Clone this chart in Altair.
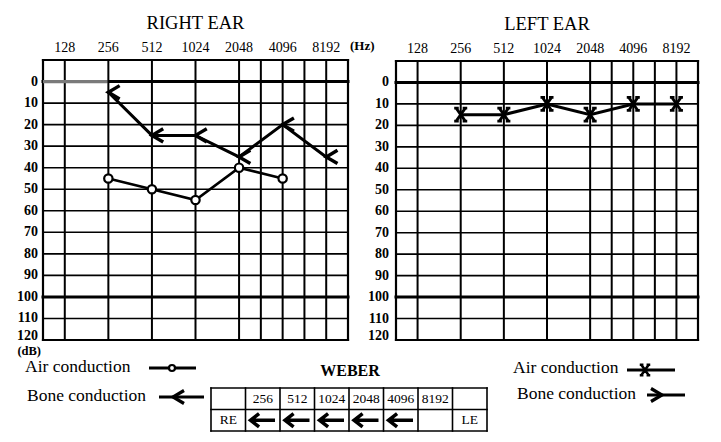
import altair as alt
import pandas as pd
import numpy as np

# ---------------- data ----------------
freq_labels = ["128", "256", "512", "1024", "2048", "4096", "8192"]
freqs = [128, 256, 512, 1024, 2048, 4096, 8192]
half_octave_lines = [2896, 5793]          # unlabeled intermediate lines
db_ticks = [0, 10, 20, 30, 40, 50, 60, 70, 80, 90, 100, 110, 120]

right_air_freq = [256, 512, 1024, 2048, 4096]
right_air_db = [45, 50, 55, 40, 45]
right_bone_freq = [256, 512, 1024, 2048, 4096, 8192]
right_bone_db = [5, 25, 25, 35, 20, 35]
left_air_freq = [256, 512, 1024, 2048, 4096, 8192]
left_air_db = [15, 15, 10, 15, 10, 10]

weber_freq_labels = ["256", "512", "1024", "2048", "4096", "8192"]
weber_result = ["left", "left", "left", "left", "left", ""]

FONT = "Liberation Serif"


def oct_idx(f):
    return np.log2(np.asarray(f, dtype=float) / 128.0)


# ---------------- scales (layout) ----------------
RX = alt.Scale(domain=[-0.5, 6.5], range=[35, 340], nice=False, zero=False)
RY = alt.Scale(domain=[-10, 120], range=[52, 332], nice=False, zero=False)
LX = alt.Scale(domain=[-0.5, 6.5], range=[388, 690], nice=False, zero=False)
LY = alt.Scale(domain=[-10, 120], range=[53, 332], nice=False, zero=False)
WX = alt.Scale(domain=[0, 8], range=[203, 479], nice=False, zero=False)
WY = alt.Scale(domain=[0, 2], range=[380, 423], nice=False, zero=False)

LT_PATH = "M1.1,-0.65 L0,0 L1.1,0.65"
GT_PATH = "M-1.1,-0.65 L0,0 L-1.1,0.65"
X_PATH = ("M-0.7,-1 L0.7,1 M0.7,-1 L-0.7,1 M-1,-1 L-0.3,-1 M0.3,-1 L1,-1 "
          "M-1,1 L-0.3,1 M0.3,1 L1,1")
ARROW_PATH = "M1,0 L-0.9,0 M-0.3,-0.55 L-1,0 L-0.3,0.55"


def rules(df, xs, ys, width, color="black", cap="square"):
    return alt.Chart(df).mark_rule(color=color, strokeWidth=width, strokeCap=cap).encode(
        x=alt.X("x0:Q", scale=xs, axis=None), x2="x1:Q",
        y=alt.Y("y0:Q", scale=ys, axis=None), y2="y1:Q")


def panel(xs, ys, title, ylab_dx):
    layers = []
    thin_h = pd.DataFrame({"y0": [d for d in db_ticks if d not in (0, 100, 120)]})
    thin_h["y1"] = thin_h["y0"]; thin_h["x0"] = -0.5; thin_h["x1"] = 6.5
    layers.append(rules(thin_h, xs, ys, 1.6))
    vx = list(oct_idx(freqs)) + list(oct_idx(half_octave_lines))
    vdf = pd.DataFrame({"x0": vx, "x1": vx, "y0": -10, "y1": 120})
    layers.append(rules(vdf, xs, ys, 2))
    thick = pd.DataFrame({"y0": [0, 100], "y1": [0, 100], "x0": -0.5, "x1": 6.5})
    layers.append(rules(thick, xs, ys, 3))
    border = pd.DataFrame({
        "x0": [-0.5, -0.5, -0.5, 6.5], "x1": [6.5, 6.5, -0.5, 6.5],
        "y0": [-10, 120, -10, -10], "y1": [-10, 120, 120, 120]})
    layers.append(rules(border, xs, ys, 2.2))
    # y labels (the last one sits a little above the bottom line)
    ydf = pd.DataFrame({"db": db_ticks, "lab": [str(d) for d in db_ticks], "x": -0.5})
    for sub, dy in ((ydf[ydf.db < 120], 0), (ydf[ydf.db == 120], -4)):
        layers.append(alt.Chart(sub).mark_text(
            align="right", baseline="middle", dx=ylab_dx, dy=dy, font=FONT, fontSize=14,
            fontWeight="bold", color="black").encode(
            x=alt.X("x:Q", scale=xs, axis=None), y=alt.Y("db:Q", scale=ys, axis=None),
            text="lab:N"))
    # x labels (top)
    xdf = pd.DataFrame({"x": oct_idx(freqs), "lab": freq_labels, "y": -10})
    layers.append(alt.Chart(xdf).mark_text(
        align="center", baseline="middle", dy=-12, font=FONT, fontSize=14,
        color="black").encode(
        x=alt.X("x:Q", scale=xs, axis=None), y=alt.Y("y:Q", scale=ys, axis=None),
        text="lab:N"))
    # title
    tdf = pd.DataFrame({"x": [3.0], "y": [-10], "lab": [title]})
    layers.append(alt.Chart(tdf).mark_text(
        align="center", baseline="middle", dy=-37, font=FONT, fontSize=18.5,
        color="black").encode(
        x=alt.X("x:Q", scale=xs, axis=None), y=alt.Y("y:Q", scale=ys, axis=None),
        text="lab:N"))
    return layers


layers = []
layers += panel(RX, RY, "RIGHT EAR", -5)
# grey artefact on the 0 line of the right ear
grey = pd.DataFrame({"x0": [-0.5], "x1": [0.98], "y0": [0], "y1": [0]})
layers.append(rules(grey, RX, RY, 3.2, color="#7a7a7a", cap="butt"))
layers += panel(LX, LY, "LEFT EAR", -7)

# unit labels
layers.append(alt.Chart(pd.DataFrame({"x": [6.5], "y": [-10], "lab": ["(Hz)"]})).mark_text(
    align="left", baseline="middle", dx=2, dy=-14, font=FONT, fontSize=13,
    fontWeight="bold", color="black").encode(
    x=alt.X("x:Q", scale=RX, axis=None), y=alt.Y("y:Q", scale=RY, axis=None), text="lab:N"))
layers.append(alt.Chart(pd.DataFrame({"x": [-0.5], "y": [120], "lab": ["(dB)"]})).mark_text(
    align="right", baseline="middle", dx=-2, dy=11, font=FONT, fontSize=12.5,
    fontWeight="bold", color="black").encode(
    x=alt.X("x:Q", scale=RX, axis=None), y=alt.Y("y:Q", scale=RY, axis=None), text="lab:N"))

# ---- right ear data ----
rb = pd.DataFrame({"x": oct_idx(right_bone_freq), "db": right_bone_db})
layers.append(alt.Chart(rb).mark_line(color="black", strokeWidth=3, strokeCap="round").encode(
    x=alt.X("x:Q", scale=RX, axis=None), y=alt.Y("db:Q", scale=RY, axis=None)))
layers.append(alt.Chart(rb).mark_point(shape=LT_PATH, size=420, filled=False, color="black",
                                       strokeWidth=3.4, opacity=1, strokeJoin="miter").encode(
    x=alt.X("x:Q", scale=RX, axis=None), y=alt.Y("db:Q", scale=RY, axis=None)))
ra = pd.DataFrame({"x": oct_idx(right_air_freq), "db": right_air_db})
layers.append(alt.Chart(ra).mark_line(color="black", strokeWidth=2.6).encode(
    x=alt.X("x:Q", scale=RX, axis=None), y=alt.Y("db:Q", scale=RY, axis=None)))
layers.append(alt.Chart(ra).mark_point(shape="circle", size=70, filled=True, fill="white",
                                       stroke="black", strokeWidth=2.2, opacity=1).encode(
    x=alt.X("x:Q", scale=RX, axis=None), y=alt.Y("db:Q", scale=RY, axis=None)))

# ---- left ear data ----
la = pd.DataFrame({"x": oct_idx(left_air_freq), "db": left_air_db})
layers.append(alt.Chart(la).mark_line(color="black", strokeWidth=3).encode(
    x=alt.X("x:Q", scale=LX, axis=None), y=alt.Y("db:Q", scale=LY, axis=None)))
layers.append(alt.Chart(la).mark_point(shape=X_PATH, size=170, filled=False, color="black",
                                       strokeWidth=2.8, opacity=1).encode(
    x=alt.X("x:Q", scale=LX, axis=None), y=alt.Y("db:Q", scale=LY, axis=None)))

# ---- legends (layout positions) ----
one = alt.Data(values=[{}])


def vtext(txt, x, y, size=17.5, weight="normal", align="left", baseline="alphabetic"):
    return alt.Chart(one).mark_text(text=txt, font=FONT, fontSize=size, fontWeight=weight,
                                    align=align, baseline=baseline, color="black").encode(
        x=alt.value(x), y=alt.value(y))


def vrule(x0, x1, y, w=3):
    return alt.Chart(one).mark_rule(color="black", strokeWidth=w).encode(
        x=alt.value(x0), x2=alt.value(x1), y=alt.value(y))


def vsym(shape, x, y, size, sw, filled=False, fill=None):
    kw = dict(shape=shape, size=size, strokeWidth=sw, opacity=1, stroke="black")
    if filled:
        kw.update(filled=True, fill=fill)
    else:
        kw.update(filled=False)
    return alt.Chart(one).mark_point(**kw).encode(x=alt.value(x), y=alt.value(y))


layers += [
    vtext("Air conduction", 17, 364),
    vrule(141, 188, 360),
    vsym("circle", 164, 360, 36, 2.2, filled=True, fill="white"),
    vtext("Bone conduction", 19, 393),
    vrule(151, 196, 389),
    vsym(LT_PATH, 165, 389, 400, 3.2),
    vtext("Air conduction", 505, 365),
    vrule(619, 667, 362),
    vsym(X_PATH, 637, 362, 110, 2.6),
    vtext("Bone conduction", 509, 391),
    vrule(639, 677, 387),
    vsym(GT_PATH, 654, 387, 400, 3.2),
    vtext("WEBER", 342, 368, size=16, weight="bold", align="center"),
]

# ---- Weber table ----
edges = list(range(9))
wv = pd.DataFrame({"x0": edges, "x1": edges, "y0": 0, "y1": 2})
layers.append(rules(wv, WX, WY, 1.6))
wh = pd.DataFrame({"x0": 0, "x1": 8, "y0": [0, 1, 2], "y1": [0, 1, 2]})
layers.append(rules(wh, WX, WY, 1.6))
whead = pd.DataFrame({"x": [i + 1.5 for i in range(len(weber_freq_labels))],
                      "y": 0.5, "lab": weber_freq_labels})
whead = pd.concat([whead, pd.DataFrame({"x": [0.5, 7.5], "y": [1.5, 1.5], "lab": ["RE", "LE"]})])
layers.append(alt.Chart(whead).mark_text(font=FONT, fontSize=13.5, color="black",
                                         align="center", baseline="middle").encode(
    x=alt.X("x:Q", scale=WX, axis=None), y=alt.Y("y:Q", scale=WY, axis=None), text="lab:N"))
warr = pd.DataFrame({"x": [i + 1.5 for i, r in enumerate(weber_result) if r == "left"], "y": 1.5})
layers.append(alt.Chart(warr).mark_point(shape=ARROW_PATH, size=600, filled=False, color="black",
                                         strokeWidth=3.5, opacity=1).encode(
    x=alt.X("x:Q", scale=WX, axis=None), y=alt.Y("y:Q", scale=WY, axis=None)))

chart = alt.layer(*layers).resolve_scale(x="independent", y="independent").properties(
    width=705, height=426, autosize=alt.AutoSizeParams(type="none"), padding=0,
    background="white").configure_view(stroke=None)

chart.save("out.html", embed_options={"renderer": "svg", "actions": False})
